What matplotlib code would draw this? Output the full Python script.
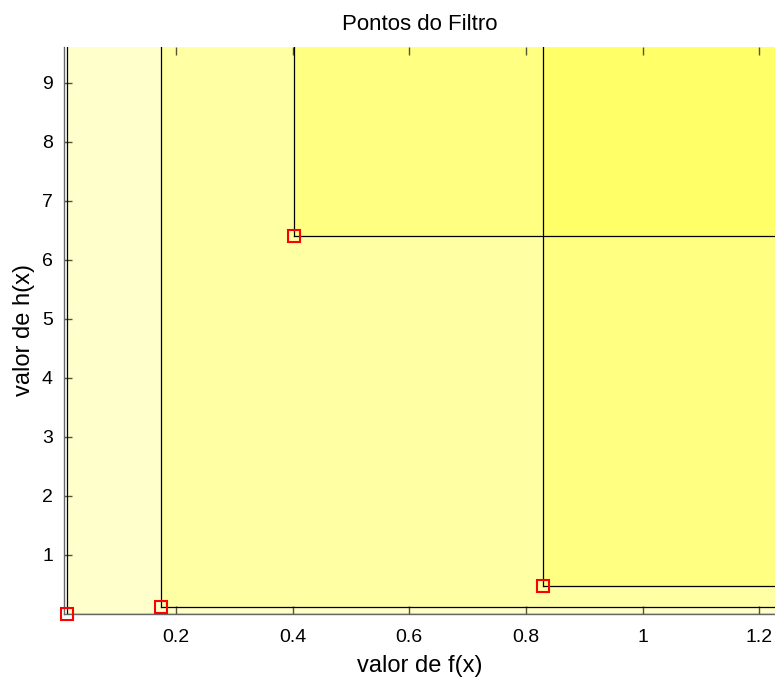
import matplotlib
matplotlib.use("Agg")
import matplotlib.pyplot as plt
from matplotlib.patches import Rectangle

plt.rcParams['font.family'] = ['Liberation Sans', 'DejaVu Sans']

f_vals = [0.0135, 0.174, 0.402, 0.829]
h_vals = [0.0, 0.12, 6.41, 0.475]
x_ticks = [0.2, 0.4, 0.6, 0.8, 1.0, 1.2]
x_tick_labels = ["0.2", "0.4", "0.6", "0.8", "1", "1.2"]
y_ticks = [1, 2, 3, 4, 5, 6, 7, 8, 9]
x_lim = (0.0085, 1.2266)
y_lim = (0.0, 9.61)

fig = plt.figure(figsize=(7.75, 6.86), dpi=100)
ax = fig.add_axes([64/775, 72/686, 1 - 64/775, 567/686])

big_x = x_lim[1] + 1
big_y = y_lim[1] + 1
for fx, hx in zip(f_vals, h_vals):
    ax.add_patch(Rectangle((fx, hx), big_x - fx, big_y - hx,
                           facecolor='#ffff00', alpha=0.2, edgecolor='none', zorder=1))
    ax.plot([fx, fx], [hx, big_y], color='black', lw=0.9, zorder=2)
    ax.plot([fx, big_x], [hx, hx], color='black', lw=0.9, zorder=2)

ax.plot(f_vals, h_vals, linestyle='none', marker='s', markersize=8,
        markerfacecolor='none', markeredgecolor='red', markeredgewidth=1.5, zorder=3,
        clip_on=False)

ax.set_xlim(*x_lim)
ax.set_ylim(*y_lim)
ax.set_xticks(x_ticks)
ax.set_xticklabels(x_tick_labels)
ax.set_yticks(y_ticks)
ax.tick_params(direction='in', top=True, right=False, length=6, width=1,
               color='#555533', labelsize=14)
ax.tick_params(axis='x', pad=11)
ax.tick_params(axis='y', pad=8)
ax.spines['top'].set_visible(False)
ax.spines['right'].set_visible(False)
for s in ('left', 'bottom'):
    ax.spines[s].set_color('#666666')
    ax.spines[s].set_linewidth(1.0)

ax.set_title("Pontos do Filtro", fontsize=16, pad=12)
ax.set_xlabel("valor de f(x)", fontsize=17, labelpad=6)
ax.set_ylabel("valor de h(x)", fontsize=17, labelpad=5)

fig.savefig("out.png", dpi=100)
